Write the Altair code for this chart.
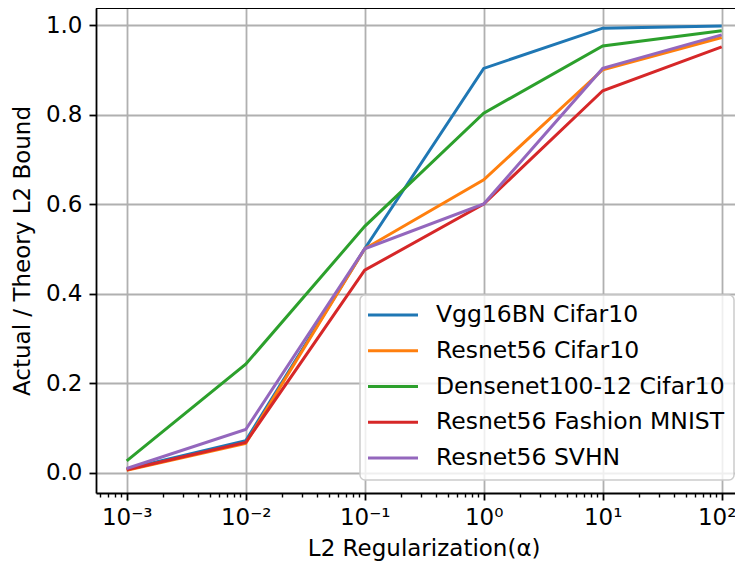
import altair as alt
import pandas as pd
import math

# ---- data ----
alphas = [0.001, 0.01, 0.1, 1, 10, 100]
series_names = ["Vgg16BN Cifar10", "Resnet56 Cifar10", "Densenet100-12 Cifar10",
                "Resnet56 Fashion MNIST", "Resnet56 SVHN"]
vgg16bn_cifar10 = [0.008, 0.071, 0.50, 0.903, 0.993, 0.998]
resnet56_cifar10 = [0.005, 0.065, 0.50, 0.654, 0.900, 0.972]
densenet_cifar10 = [0.026, 0.242, 0.55, 0.803, 0.953, 0.987]
resnet56_fmnist = [0.006, 0.067, 0.452, 0.600, 0.853, 0.951]
resnet56_svhn = [0.009, 0.096, 0.50, 0.600, 0.903, 0.978]
series_values = [vgg16bn_cifar10, resnet56_cifar10, densenet_cifar10,
                 resnet56_fmnist, resnet56_svhn]
colors = ["#1f77b4", "#ff7f0e", "#2ca02c", "#d62728", "#9467bd"]

x_major = [0.001, 0.01, 0.1, 1, 10, 100]
x_tick_labels = ["10\u207b\u00b3", "10\u207b\u00b2", "10\u207b\u00b9", "10\u2070", "10\u00b9", "10\u00b2"]
y_ticks = [0.0, 0.2, 0.4, 0.6, 0.8, 1.0]

x_title = "L2 Regularization(\u03b1)"
y_title = "Actual / Theory L2 Bound"

# ---- tables ----
rows = []
for name, vals in zip(series_names, series_values):
    for a, v in zip(alphas, vals):
        rows.append({"alpha": a, "value": v, "series": name})
df = pd.DataFrame(rows)

minor = []
for k in range(-4, 3):
    for m in range(2, 10):
        minor.append(round(m * 10 ** k, 8))
x_all = sorted(set(x_major + minor))

FONT = "DejaVu Sans"
FS = 23
W, H = 639, 485   # plot area visible inside the page (right part is cut by the page edge)

exp_expr = "round(log(datum.value)/LN10)"
is_major = f"abs(log(datum.value)/LN10 - {exp_expr}) < 0.001"
is_last = f"{is_major} && {exp_expr} == 2"
label_expr = "''"
for v, lab in reversed(list(zip(x_major, x_tick_labels))):
    e = int(round(math.log10(v)))
    label_expr = f"({is_major} && {exp_expr} == {e}) ? '{lab}' : ({label_expr})"

color_scale = alt.Scale(domain=series_names, range=colors)

# log domain such that 10^-3 .. 10^2 keep 119 px per decade
x_lo = 10 ** (-3.258)
x_hi = 10 ** (-3.258 + W / 119.0)

x_axis = alt.Axis(
    values=x_all, labelExpr=label_expr, title=x_title,
    grid=True, gridColor="#b0b0b0", gridWidth=1.8,
    gridOpacity={"condition": {"test": is_major, "value": 1}, "value": 0},
    tickSize={"condition": {"test": is_major, "value": 7}, "value": 4},
    tickWidth={"condition": {"test": is_major, "value": 1.8}, "value": 1.4},
    tickColor="black", domainColor="black", domainWidth=1.8,
    labelFont=FONT, labelFontSize=FS, labelColor="black", labelPadding=6,
    labelOffset={"condition": {"test": is_last, "value": -5}, "value": 0},
    labelFlush=False, labelOverlap=False,
    titleFont=FONT, titleFontSize=FS, titleFontWeight="normal", titleColor="black",
    titlePadding=8, titleX=327.7,
)
y_axis = alt.Axis(
    values=y_ticks, format=".1f", title=y_title,
    grid=True, gridColor="#b0b0b0", gridWidth=1.8,
    tickSize=7, tickWidth=1.8, tickColor="black", domainColor="black", domainWidth=1.8,
    labelFont=FONT, labelFontSize=FS, labelColor="black", labelPadding=7,
    titleFont=FONT, titleFontSize=FS, titleFontWeight="normal", titleColor="black",
    titlePadding=11,
)

lines = alt.Chart(df).mark_line(strokeWidth=3).encode(
    x=alt.X("alpha:Q", scale=alt.Scale(type="log", domain=[x_lo, x_hi], nice=False, zero=False), axis=x_axis),
    y=alt.Y("value:Q", scale=alt.Scale(domain=[-0.0458, 1.038], nice=False, zero=False), axis=y_axis),
    color=alt.Color("series:N", scale=color_scale, legend=None),
    detail="series:N",
)

one = pd.DataFrame({"k": [0]})
top_frame = alt.Chart(one).mark_rule(color="black", strokeWidth=1.8).encode(
    x=alt.value(0), x2=alt.value(W), y=alt.value(0)
)

legend_box = alt.Chart(one).mark_rect(
    fill="white", fillOpacity=0.8, stroke="#cccccc", strokeWidth=1.5, cornerRadius=5
).encode(x=alt.value(264), x2=alt.value(638), y=alt.value(287), y2=alt.value(472))

leg_df = pd.DataFrame({"series": series_names})
leg_y = alt.Y("series:N", scale=alt.Scale(type="point", domain=series_names, range=[307, 450], padding=0), axis=None)
legend_lines = alt.Chart(leg_df).mark_rule(strokeWidth=3).encode(
    x=alt.value(272), x2=alt.value(322), y=leg_y,
    color=alt.Color("series:N", scale=color_scale, legend=None),
)
legend_text = alt.Chart(leg_df).mark_text(
    align="left", baseline="middle", font=FONT, fontSize=23.5, color="black"
).encode(x=alt.value(340), y=leg_y, text="series:N")

chart = alt.layer(lines, top_frame, legend_box, legend_lines, legend_text).resolve_scale(
    y="independent"
).properties(
    width=W, height=H,
    autosize=alt.AutoSizeParams(type="none"),
    padding={"left": 88, "top": 0, "right": 0, "bottom": 74},
).configure_view(stroke=None).configure(background="white")

chart.save("out.html", embed_options={"renderer": "svg", "actions": False})
